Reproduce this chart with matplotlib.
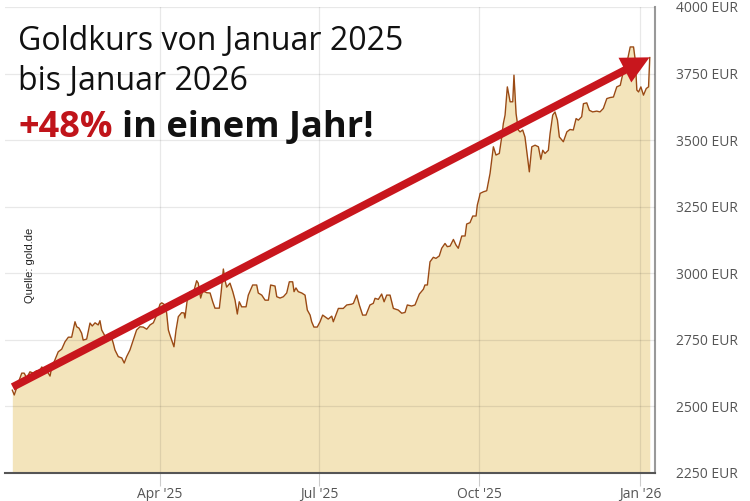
import matplotlib.pyplot as plt
import matplotlib.dates as mdates
from matplotlib.patches import FancyArrowPatch
import numpy as np
import pandas as pd

# Tage seit 1.1.2025 und Goldkurs in EUR
tage = [5.4, 6.5, 9.8, 10.8, 12.2, 13.6, 15.5, 17.4, 19.3, 20.3, 22.2, 24.1, 26.0, 27.0, 27.9,
        29.8, 31.7, 33.7, 35.6, 37.5, 39.4, 41.3, 42.3, 43.6, 45.1, 46.0, 48.0, 49.9, 51.2,
        52.8, 54.6, 55.6, 56.6, 58.5, 60.4, 62.3, 63.2, 64.2, 66.1, 68.1, 69.5, 70.9, 72.8,
        74.7, 76.6, 78.5, 80.4, 82.4, 84.3, 86.2, 88.1, 90.0, 91.0, 92.9, 93.8, 94.8, 95.7,
        97.3, 98.0, 99.2, 100.5, 102.4, 103.8, 104.3, 105.6, 107.2, 109.1, 111.0, 111.9,
        113.3, 114.5, 116.8, 118.7, 120.2, 121.5, 124.0, 125.0, 126.3, 127.2, 128.2, 130.1,
        131.7, 133.0, 134.3, 135.4, 136.8, 139.3, 140.6, 143.1, 145.4, 146.3, 148.3, 150.2,
        152.1, 153.4, 155.9, 156.9, 158.8, 160.7, 162.6, 164.1, 166.0, 166.8, 167.9, 169.2,
        171.2, 173.1, 174.4, 176.0, 176.9, 178.2, 180.1, 181.7, 183.2, 184.5, 186.4, 188.4,
        189.3, 192.2, 195.0, 197.0, 199.8, 200.8, 202.7, 204.2, 206.1, 208.0, 210.3, 212.2,
        213.2, 215.1, 217.0, 218.4, 219.9, 221.8, 223.7, 226.5, 228.5, 230.4, 231.7, 234.2,
        236.1, 238.6, 240.9, 241.8, 243.2, 244.7, 246.6, 248.1, 250.0, 251.4, 253.3, 254.6,
        256.2, 258.1, 259.6, 260.9, 262.9, 264.8, 265.7, 267.6, 269.2, 271.1, 271.8, 273.0,
        273.4, 275.3, 277.2, 279.1, 281.0, 282.5, 284.4, 285.8, 286.7, 287.7, 289.0, 290.6,
        292.1, 292.8, 294.0, 295.3, 296.3, 297.8, 299.1, 300.5, 301.6, 303.0, 304.9, 306.8,
        308.2, 309.3, 310.6, 312.5, 313.5, 315.0, 316.3, 317.7, 318.8, 321.1, 323.1, 324.9,
        326.8, 328.4, 329.7, 331.6, 332.6, 334.5, 336.0, 337.9, 340.2, 342.1, 344.0, 346.0,
        347.9, 349.8, 351.7, 353.7, 355.2, 356.5, 357.8, 359.4, 361.3, 362.3, 363.2, 364.2,
        365.5, 367.0, 368.6, 369.9, 370.6]
kurs = [2561, 2543, 2607, 2625, 2625, 2607, 2630, 2625, 2634, 2618, 2648, 2640, 2625, 2614, 2644,
        2674, 2705, 2715, 2743, 2760, 2760, 2818, 2799, 2794, 2775, 2749, 2753, 2813, 2802,
        2814, 2806, 2822, 2787, 2764, 2757, 2757, 2738, 2712, 2687, 2682, 2663, 2687, 2712,
        2749, 2787, 2799, 2798, 2790, 2806, 2814, 2843, 2884, 2889, 2881, 2851, 2787, 2768,
        2738, 2724, 2787, 2837, 2852, 2851, 2832, 2899, 2931, 2926, 2972, 2963,
        2907, 2934, 2927, 2926, 2893, 2869, 2869, 2926, 3016, 2975, 2948, 2963,
        2931, 2899, 2847, 2893, 2874, 2874, 2918, 2956, 2956, 2926, 2918, 2899,
        2899, 2956, 2952, 2912, 2907, 2912, 2926, 2968, 2968, 2931, 2945, 2931,
        2926, 2918, 2862, 2843, 2818, 2798, 2798, 2818, 2843, 2837, 2828, 2839,
        2818, 2868, 2868, 2881, 2884, 2887, 2918, 2881, 2843, 2843, 2881, 2887,
        2906, 2902, 2922, 2893, 2918, 2918, 2868, 2862, 2850, 2853, 2881, 2877,
        2881, 2922, 2940, 2956, 2956, 3043, 3060, 3056, 3065, 3094, 3112, 3100,
        3102, 3127, 3106, 3094, 3140, 3140, 3185, 3190, 3215, 3215, 3256, 3287,
        3300, 3306, 3310, 3375, 3475, 3444, 3450, 3512, 3562, 3594, 3700, 3644,
        3644, 3744, 3600, 3538, 3531, 3538, 3512, 3437, 3381, 3475, 3481, 3475,
        3428, 3462, 3450, 3462, 3525, 3594, 3606, 3575, 3512, 3494, 3531, 3540,
        3538, 3581, 3575, 3588, 3637, 3640, 3612, 3606, 3609, 3606, 3619, 3656,
        3660, 3662, 3700, 3706, 3750, 3756, 3800, 3850, 3850, 3800, 3688, 3681,
        3700, 3669, 3694, 3700, 3810]

# Trendpfeil: Start / Ende
pfeil_tage = [5.6, 370.5]
pfeil_kurs = [2573, 3811]

y_ticks = [2250, 2500, 2750, 3000, 3250, 3500, 3750, 4000]
x_ticks = ["2025-04-01", "2025-07-01", "2025-10-01", "2026-01-01"]
x_labels = ["Apr '25", "Jul '25", "Oct '25", "Jan '26"]

start = pd.Timestamp("2025-01-01")
datum = start + pd.to_timedelta(tage, unit="D")
pfeil_datum = start + pd.to_timedelta(pfeil_tage, unit="D")

plt.rcParams["font.family"] = ["Open Sans", "DejaVu Sans"]

fig = plt.figure(figsize=(7.5, 5.01), dpi=100)
ax = fig.add_axes([5 / 750, 1 - 473 / 501, 650 / 750, 466 / 501])

ax.fill_between(datum, kurs, 2250, color="#f3e4bb", lw=0, zorder=1)
ax.plot(datum, kurs, color="#9a4a14", lw=1.0, zorder=3)

ax.set_ylim(2250, 4000)
ax.set_xlim(start + pd.Timedelta(days=1.2), start + pd.Timedelta(days=373.6))

ax.set_yticks(y_ticks)
ax.set_yticklabels([f"{v} EUR" for v in y_ticks])
ax.set_xticks(pd.to_datetime(x_ticks))
ax.set_xticklabels(x_labels)

ax.yaxis.tick_right()
ax.tick_params(axis="y", length=0, pad=15, labelsize=10, labelcolor="#555555")
ax.tick_params(axis="x", length=9, width=0.8, color="#cccccc", pad=1,
               labelsize=10, labelcolor="#555555")

ax.set_axisbelow(False)
ax.grid(True, color="#000000", alpha=0.09, lw=0.9)

for s in ["left", "top"]:
    ax.spines[s].set_visible(False)
ax.spines["bottom"].set_color("#555555")
ax.spines["bottom"].set_linewidth(1.5)
ax.spines["right"].set_color("#999999")
ax.spines["right"].set_linewidth(1.5)
ax.spines["bottom"].set_zorder(5)

arrow = FancyArrowPatch((mdates.date2num(pfeil_datum[0]), pfeil_kurs[0]),
                        (mdates.date2num(pfeil_datum[1]), pfeil_kurs[1]),
                        arrowstyle="simple,head_length=2.0,head_width=2.0,tail_width=0.56",
                        mutation_scale=10, color="#c8161d", lw=0,
                        shrinkA=0, shrinkB=0, zorder=4)
ax.add_patch(arrow)

# Titel
fig.text(18 / 750, 1 - 50 / 501, "Goldkurs von Januar 2025", fontsize=23,
         color="#111111", va="baseline")
fig.text(18 / 750, 1 - 90 / 501, "bis Januar 2026", fontsize=23,
         color="#111111", va="baseline")
t = fig.text(18 / 750, 1 - 137 / 501, "+48%", fontsize=26, fontweight="bold",
             color="#c0141a", va="baseline")
fig.canvas.draw()
bb = t.get_window_extent()
fig.text((bb.x1 + 9) / 750, 1 - 137 / 501, "in einem Jahr!", fontsize=26,
         fontweight="bold", color="#111111", va="baseline")

fig.text(30 / 750, 1 - 265 / 501, "Quelle: gold.de", fontsize=8, rotation=90,
         ha="center", va="center", color="#222222", family="Liberation Sans")

fig.savefig("out.png", dpi=100)
